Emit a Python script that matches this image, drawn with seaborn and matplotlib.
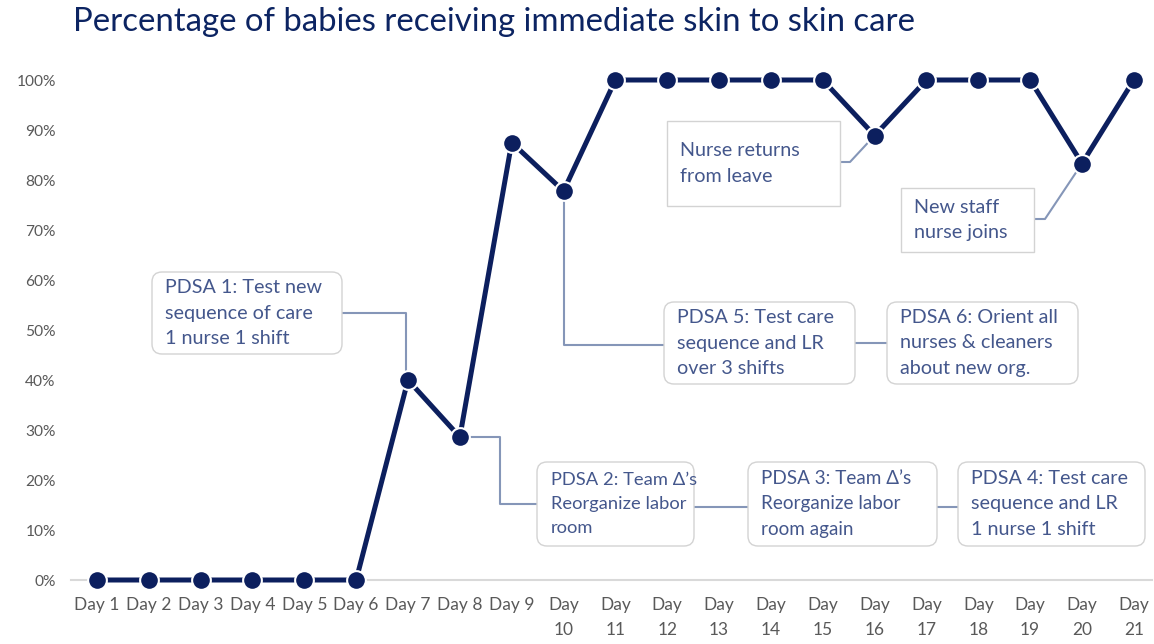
import matplotlib
matplotlib.use("Agg")
import matplotlib.pyplot as plt
import seaborn as sns
import numpy as np
import pandas as pd
from matplotlib.patches import FancyBboxPatch
from matplotlib.lines import Line2D
from matplotlib.transforms import IdentityTransform

# ---- data ----
days = ["Day 1", "Day 2", "Day 3", "Day 4", "Day 5", "Day 6", "Day 7", "Day 8", "Day 9",
        "Day 10", "Day 11", "Day 12", "Day 13", "Day 14", "Day 15", "Day 16", "Day 17",
        "Day 18", "Day 19", "Day 20", "Day 21"]
pct = [0, 0, 0, 0, 0, 0, 40.0, 28.6, 87.5, 77.8, 100, 100, 100, 100, 100, 88.9, 100,
       100, 100, 83.3, 100]
yticks = [0, 10, 20, 30, 40, 50, 60, 70, 80, 90, 100]
title = "Percentage of babies receiving immediate skin to skin care"

sns.set_theme(style="white")
plt.rcParams['font.family'] = ['Lato', 'DejaVu Sans']

W, H = 1154, 644
NAVY = "#0c1f5e"
TXT = "#44578c"
CONN = "#8596b8"
GREY = "#595959"

fig = plt.figure(figsize=(W / 100, H / 100), dpi=100)
ax = fig.add_axes([71 / W, 1 - 580 / H, (1152 - 71) / W, (580 - 80) / H])

df = pd.DataFrame({"idx": np.arange(len(days)), "pct": pct})
sns.lineplot(data=df, x="idx", y="pct", ax=ax, color=NAVY, lw=3.6, marker="o",
             markersize=13.5, markeredgecolor="white", markeredgewidth=1.5,
             markerfacecolor=NAVY, clip_on=False, zorder=3)

ax.set_xlim(-0.5, 20.35)
ax.set_ylim(0, 100)
for s in ["top", "right", "left"]:
    ax.spines[s].set_visible(False)
ax.spines["bottom"].set_color("#d9d9d9")
ax.spines["bottom"].set_linewidth(1.5)
ax.set_xlabel("")
ax.set_ylabel("")
ax.set_xticks(range(len(days)))
ax.set_xticklabels([d if len(d) <= 5 else d.replace(" ", "\n") for d in days],
                   fontsize=12.5, color=GREY, linespacing=1.75, va="top")
ax.set_yticks(yticks)
ax.set_yticklabels([f"{v}%" for v in yticks], fontsize=11.2, color=GREY)
ax.tick_params(axis="x", length=0, pad=12)
ax.tick_params(axis="y", length=0, pad=11)
ax.grid(False)

fig.text(73 / W, 1 - 22 / H, title, fontsize=23.7, color="#0c2462", va="center", ha="left")

ID = IdentityTransform()


def px(x, y):
    return (x, H - y)


def pt(i):
    return ax.transData.transform((i, pct[i]))


def box(x0, y0, x1, y1, lines, rounded=True, fs=14.2, inset=13):
    style = "round,pad=0,rounding_size=10" if rounded else "square,pad=0"
    p = FancyBboxPatch(px(x0, y1), x1 - x0, y1 - y0, boxstyle=style, transform=ID,
                       fc="white", ec="#d3d3d3", lw=1.0, clip_on=False, zorder=5)
    ax.add_artist(p)
    cy = (y0 + y1) / 2
    ax.text(x0 + inset, H - cy, "\n".join(lines), transform=ID, fontsize=fs, color=TXT,
            ha="left", va="center", linespacing=1.58, zorder=6, clip_on=False,
            family=["Lato", "DejaVu Sans"])


def conn(points):
    xs = [p[0] for p in points]
    ys = [p[1] for p in points]
    ax.add_artist(Line2D(xs, ys, transform=ID, color=CONN, lw=1.5, clip_on=False, zorder=2))


# PDSA 1
box(152, 272, 342, 354, ["PDSA 1: Test new", "sequence of care", "1 nurse 1 shift"])
p7 = pt(6)
conn([px(342, 313), (p7[0] - 2, H - 313), (p7[0] - 2, p7[1])])

# PDSA 2,3,4
box(537, 462, 694, 546, ["PDSA 2: Team \u0394\u2019s", "Reorganize labor", "room"], fs=13.2, inset=14)
p8 = pt(7)
conn([p8, (500, p8[1]), px(500, 504), px(537, 504)])
box(748, 462, 937, 546, ["PDSA 3: Team \u0394\u2019s", "Reorganize labor", "room again"], fs=13.6)
conn([px(694, 507), px(748, 507)])
box(958, 462, 1145, 546, ["PDSA 4: Test care", "sequence and LR", "1 nurse 1 shift"])
conn([px(937, 507), px(958, 507)])

# PDSA 5,6
box(664, 302, 855, 384, ["PDSA 5: Test care", "sequence and LR", "over 3 shifts"])
p10 = pt(9)
conn([p10, (p10[0], H - 345), px(664, 345)])
box(887, 302, 1078, 384, ["PDSA 6: Orient all", "nurses & cleaners", "about new org."])
conn([px(855, 343), px(887, 343)])

# Nurse returns
box(667, 121, 840, 206, ["Nurse returns", "from leave"], rounded=False)
p16 = pt(15)
conn([px(840, 162), px(850, 162), p16])

# New staff
box(901, 188, 1034, 252, ["New staff", "nurse joins"], rounded=False)
p20 = pt(19)
conn([px(1034, 219), px(1045, 219), p20])

fig.savefig("out.png", dpi=100)
